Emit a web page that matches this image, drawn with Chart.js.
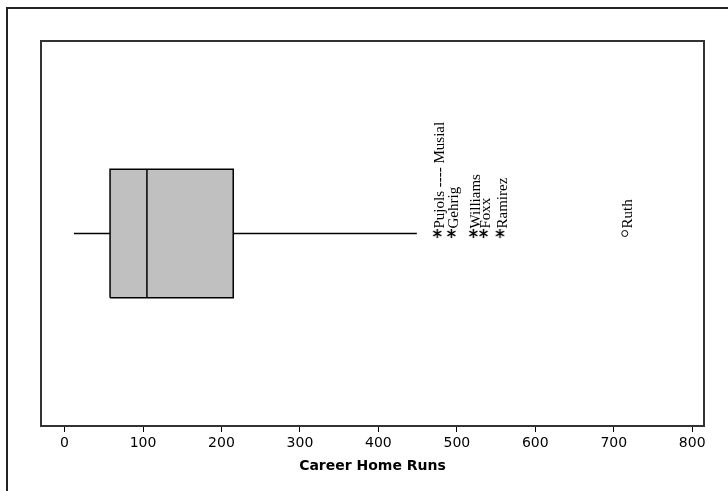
<!DOCTYPE html>
<html><head><meta charset="utf-8">
<script src="https://cdn.jsdelivr.net/npm/chart.js@4"></script>
<style>
html,body{margin:0;padding:0;background:#fff;}
#wrap{position:relative;width:728px;height:491px;overflow:hidden;}
#frame{position:absolute;left:6px;top:7px;right:-10px;bottom:-10px;border-left:2px solid #222;border-top:2px solid #222;}
canvas{position:absolute;left:0;top:0;}
</style></head>
<body><div id="wrap"><div id="frame"></div><canvas id="c" width="728" height="491"></canvas></div>
<script>
// ---- data ----
const whiskerLow = 12;
const q1 = 58;
const median = 105;
const q3 = 215;
const whiskerHigh = 449;
const outlierNames = ['Pujols ---- Musial', 'Gehrig', 'Williams', 'Foxx', 'Ramirez', 'Ruth'];
const outlierValues = [475, 493, 521, 534, 555, 714];
const outlierKinds = ['star', 'star', 'star', 'star', 'star', 'circle'];
const tickValues = [0, 100, 200, 300, 400, 500, 600, 700, 800];
const axisTitle = 'Career Home Runs';

// asterisk marker
function makeAsterisk() {
  const c = document.createElement('canvas');
  c.width = 11; c.height = 11;
  const g = c.getContext('2d');
  g.strokeStyle = '#000'; g.lineWidth = 1.5;
  const cx = 5.5, cy = 5.5, r = 4.6;
  for (const a of [90, 30, 150]) {
    const t = a * Math.PI / 180;
    g.beginPath();
    g.moveTo(cx - r * Math.cos(t), cy - r * Math.sin(t));
    g.lineTo(cx + r * Math.cos(t), cy + r * Math.sin(t));
    g.stroke();
  }
  return c;
}
const asterisk = makeAsterisk();

const boxHalf = 0.5;
const boxPoly = [
  {x: q1, y: -boxHalf}, {x: q3, y: -boxHalf}, {x: q3, y: boxHalf}, {x: q1, y: boxHalf}, {x: q1, y: -boxHalf}
];

const outlierPoints = outlierValues.map(v => ({x: v, y: 0}));

const labelPlugin = {
  id: 'outlierLabels',
  afterDatasetsDraw(chart) {
    const meta = chart.getDatasetMeta(4);
    const ctx = chart.ctx;
    ctx.save();
    ctx.fillStyle = '#000';
    ctx.font = '15px "Liberation Serif", "Times New Roman", serif';
    ctx.textAlign = 'left';
    ctx.textBaseline = 'middle';
    meta.data.forEach((pt, i) => {
      ctx.save();
      ctx.translate(pt.x + 3, pt.y - 5);
      ctx.rotate(-Math.PI / 2);
      ctx.fillText(outlierNames[i], 0, 0);
      ctx.restore();
    });
    ctx.restore();
  }
};

const framePlugin = {
  id: 'plotFrame',
  afterDraw(chart) {
    const a = chart.chartArea;
    const ctx = chart.ctx;
    ctx.save();
    ctx.strokeStyle = '#333';
    ctx.lineWidth = 2;
    ctx.strokeRect(a.left, a.top, a.right - a.left, a.bottom - a.top);
    ctx.restore();
  }
};

new Chart(document.getElementById('c'), {
  type: 'scatter',
  data: {
    datasets: [
      { // box
        data: boxPoly, showLine: true, fill: 'shape', backgroundColor: '#c0c0c0', order: 10,
        borderColor: '#000', borderWidth: 1.5, pointRadius: 0, tension: 0
      },
      { // median
        data: [{x: median, y: -boxHalf}, {x: median, y: boxHalf}], showLine: true, order: 1,
        borderColor: '#000', borderWidth: 1.5, pointRadius: 0
      },
      { // lower whisker
        data: [{x: whiskerLow, y: 0}, {x: q1, y: 0}], showLine: true, order: 1,
        borderColor: '#000', borderWidth: 1.4, pointRadius: 0
      },
      { // upper whisker
        data: [{x: q3, y: 0}, {x: whiskerHigh, y: 0}], showLine: true, order: 1,
        borderColor: '#000', borderWidth: 1.4, pointRadius: 0
      },
      { // outliers
        data: outlierPoints, showLine: false, order: 0,
        pointStyle: ctx => outlierKinds[ctx.dataIndex] === 'star' ? asterisk : 'circle',
        pointRadius: ctx => outlierKinds[ctx.dataIndex] === 'star' ? 5 : 3,
        backgroundColor: '#fff', borderColor: '#000', borderWidth: 1
      }
    ]
  },
  options: {
    responsive: false,
    animation: false,
    events: [],
    layout: { padding: { left: 41, top: 41, right: 24, bottom: 0 } },
    plugins: { legend: { display: false }, tooltip: { enabled: false } },
    scales: {
      y: { type: 'linear', min: -1.5, max: 1.5, display: false },
      x: {
        type: 'linear', min: -30, max: 815,
        afterBuildTicks: s => { s.ticks = tickValues.map(v => ({value: v})); },
        afterFit: s => { s.height = 65; },
        grid: { drawOnChartArea: false, drawTicks: true, tickLength: 6, color: '#000', lineWidth: 1 },
        border: { display: false },
        ticks: { color: '#000', padding: 3, maxRotation: 0,
          font: { family: '"DejaVu Sans", sans-serif', size: 14 } },
        title: { display: true, text: axisTitle, color: '#000',
          font: { family: '"DejaVu Sans", sans-serif', size: 14, weight: 'bold' },
          padding: { top: 4, bottom: 16 } }
      }
    }
  },
  plugins: [labelPlugin, framePlugin]
});
</script>
</body></html>
